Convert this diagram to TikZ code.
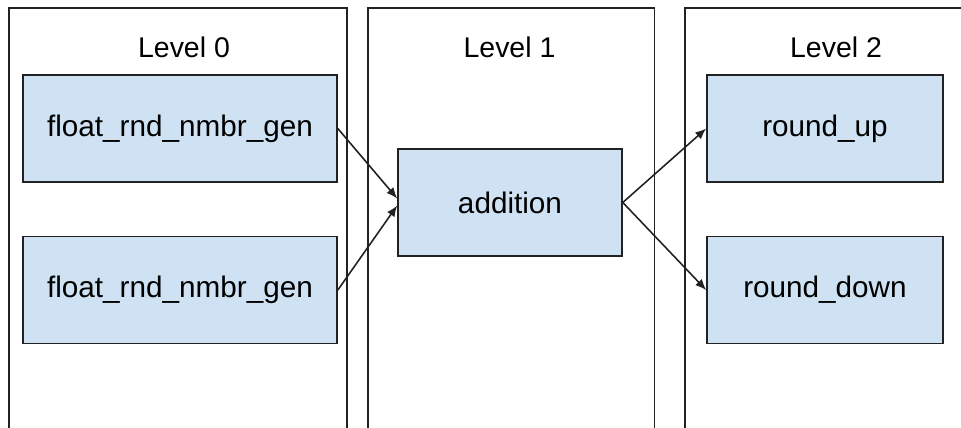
\documentclass[tikz,border=0pt]{standalone}
\usepackage{fontspec}
\setmainfont{Liberation Sans}
\usepackage{xcolor}
\usetikzlibrary{arrows.meta, positioning}
\definecolor{boxblue}{RGB}{207, 226, 243}
\definecolor{edgegray}{RGB}{34, 34, 34}

\begin{document}
\begin{tikzpicture}[
  node distance=1.06cm and 1.2cm,
  box/.style={draw=edgegray, line width=0.9pt, fill=boxblue, minimum height=2.14cm,
    align=center, font=\fontsize{16.9}{19}\selectfont},
  genbox/.style={box, minimum width=6.28cm},
  opbox/.style={box, minimum width=4.48cm},
  roundbox/.style={box, minimum width=4.72cm},
  lvl/.style={font=\fontsize{16.2}{19}\selectfont},
  frame/.style={draw=edgegray, line width=0.9pt},
  arr/.style={-{Latex[length=2.2mm, width=1.8mm]}, line width=0.9pt, edgegray}
]
\useasboundingbox (0,0) rectangle (19.22,-8.54);

% Level columns
\draw[frame] (0.18,-8.7) |- (6.94,-0.16) -- (6.94,-8.7);
\draw[frame] (7.36,-8.7) |- (13.09,-0.16) -- (13.09,-8.7);
\draw[frame] (13.70,-8.7) |- (19.5,-0.16);

\node[lvl] (lvl0) at (3.68,-0.94) {Level 0};
\node[lvl] (lvl1) at (10.19,-0.94) {Level 1};
\node[lvl] (lvl2) at (16.72,-0.94) {Level 2};

% Level 0
\node[genbox] (gen_a) at (3.6,-2.57) {float\_rnd\_nmbr\_gen};
\node[genbox, below=of gen_a] (gen_b) {float\_rnd\_nmbr\_gen};

% Level 1
\node[opbox] (add) at (10.2,-4.05) {addition};

% Level 2
\node[roundbox] (up) at (16.5,-2.57) {round\_up};
\node[roundbox, below=of up] (down) {round\_down};

% Arrows
\draw[arr] (gen_a.east) -- ([yshift=0.08cm]add.west);
\draw[arr] (gen_b.east) -- ([yshift=-0.06cm]add.west);
\draw[arr] (add.east) -- (up.west);
\draw[arr] (add.east) -- (down.west);

\end{tikzpicture}
\end{document}
